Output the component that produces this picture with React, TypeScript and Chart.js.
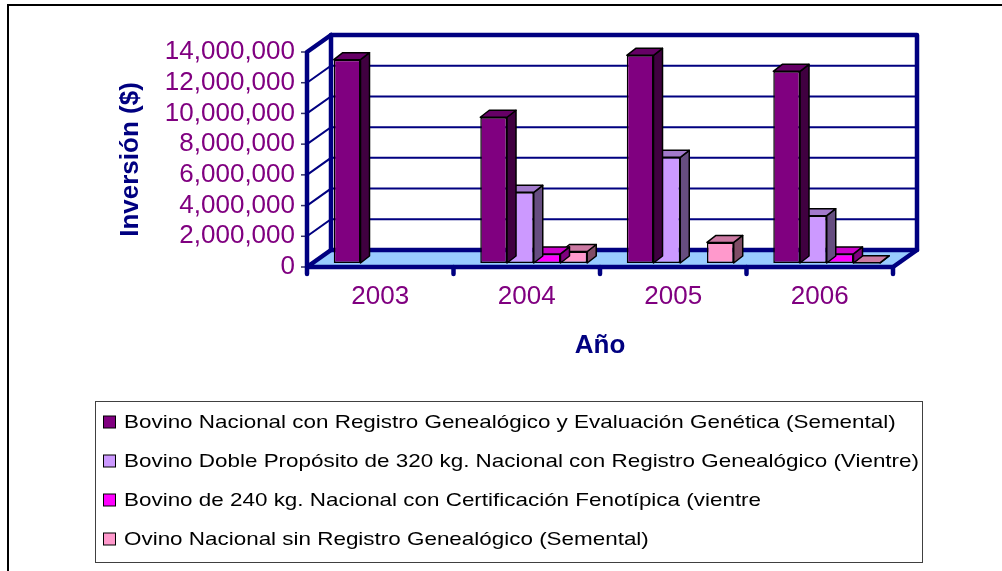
import React, { useEffect, useRef } from 'react';
import { Chart, registerables } from 'chart.js';

Chart.register(...registerables);

// ---- data ----
const years = ['2003', '2004', '2005', '2006'];
const seriesLabels = [
  'Bovino Nacional con Registro Genealógico y Evaluación Genética (Semental)',
  'Bovino Doble Propósito de 320 kg. Nacional con Registro Genealógico (Vientre)',
  'Bovino de 240 kg. Nacional con Certificación Fenotípica (vientre',
  'Ovino Nacional sin Registro Genealógico (Semental)',
];
const bovinoSemental: (number | null)[] = [13240000, 9490000, 13520000, 12480000];
const bovinoDobleProposito: (number | null)[] = [null, 4600000, 6880000, 3080000];
const bovino240: (number | null)[] = [null, 590000, null, 590000];
const ovinoSemental: (number | null)[] = [null, 750000, 1340000, 20000];
const seriesColors = ['#800080', '#CC99FF', '#FF00FF', '#FF99CC'];
const yMin = 0;
const yMax = 14000000;
const yStep = 2000000;
const xTitle = 'Año';
const yTitle = 'Inversión ($)';

// ---- style ----
const NAVY = '#000080';
const PURPLE = '#800080';
const FONT = '"Liberation Sans", Arial, sans-serif';
const WALL = { dx: 24, dy: -17 };
const BAR_SHIFT = { dx: 7, dy: -4 };
const BAR_DEPTH = { dx: 9, dy: -7 };

function shade(hex: string, f: number) {
  const n = parseInt(hex.slice(1), 16);
  const r = Math.round(((n >> 16) & 255) * f);
  const g = Math.round(((n >> 8) & 255) * f);
  const b = Math.round((n & 255) * f);
  return `rgb(${r},${g},${b})`;
}

function poly(ctx: CanvasRenderingContext2D, pts: number[][]) {
  ctx.beginPath();
  ctx.moveTo(pts[0][0], pts[0][1]);
  for (let i = 1; i < pts.length; i++) ctx.lineTo(pts[i][0], pts[i][1]);
  ctx.closePath();
}

const frame3d = {
  id: 'frame3d',
  beforeDraw(chart: any) {
    const ctx: CanvasRenderingContext2D = chart.ctx;
    ctx.save();
    ctx.fillStyle = '#ffffff';
    ctx.fillRect(0, 0, chart.width, chart.height);
    ctx.strokeStyle = '#000';
    ctx.lineWidth = 2;
    ctx.beginPath();
    ctx.moveTo(8, chart.height);
    ctx.lineTo(8, 5);
    ctx.lineTo(chart.width, 5);
    ctx.stroke();
    ctx.restore();
  },
  beforeDatasetsDraw(chart: any) {
    const ctx: CanvasRenderingContext2D = chart.ctx;
    const a = chart.chartArea;
    const y = chart.scales.y;
    const x = chart.scales.x;
    const L = a.left, R = a.right, T = a.top, B = a.bottom;
    const { dx, dy } = WALL;
    ctx.save();
    // floor
    ctx.fillStyle = '#99CCFF';
    poly(ctx, [[L, B], [L + dx, B + dy], [R + dx, B + dy], [R, B]]);
    ctx.fill();
    // gridlines (left wall + back wall)
    ctx.strokeStyle = NAVY;
    ctx.lineWidth = 2;
    const ticks = y.ticks.map((t: any) => t.value);
    ticks.forEach((v: number) => {
      if (v === yMin || v === yMax) return;
      const py = y.getPixelForValue(v);
      ctx.beginPath();
      ctx.moveTo(L, py);
      ctx.lineTo(L + dx, py + dy);
      ctx.lineTo(R + dx, py + dy);
      ctx.stroke();
    });
    // y tick marks
    ctx.lineWidth = 1.5;
    ctx.strokeStyle = '#333366';
    ticks.forEach((v: number) => {
      const py = y.getPixelForValue(v);
      ctx.beginPath();
      ctx.moveTo(L - 6, py);
      ctx.lineTo(L, py);
      ctx.stroke();
    });
    // thick frame
    ctx.strokeStyle = NAVY;
    ctx.lineWidth = 4.5;
    ctx.lineJoin = 'round';
    ctx.lineCap = 'round';
    ctx.strokeRect(L + dx, T + dy, R - L, B - T);
    ctx.beginPath();
    ctx.moveTo(L + dx, T + dy);
    ctx.lineTo(L, T);
    ctx.lineTo(L, B);
    ctx.lineTo(L + dx, B + dy);
    ctx.moveTo(L, B);
    ctx.lineTo(R, B);
    ctx.lineTo(R + dx, B + dy);
    ctx.stroke();
    // category stubs
    const n = years.length;
    const cw = (x.getPixelForValue(n - 1) - x.getPixelForValue(0)) / (n - 1);
    for (let i = 0; i <= n; i++) {
      const px = x.getPixelForValue(0) - cw / 2 + i * cw;
      ctx.beginPath();
      ctx.moveTo(px, B);
      ctx.lineTo(px, B + 7);
      ctx.stroke();
    }
    ctx.restore();
    ctx.save();
    ctx.translate(BAR_SHIFT.dx, BAR_SHIFT.dy);
  },
  afterDatasetDraw(chart: any, args: any) {
    const ctx: CanvasRenderingContext2D = chart.ctx;
    const meta = args.meta;
    const ds = chart.data.datasets[args.index];
    const base = ds.backgroundColor as string;
    const side = shade(base, 0.5);
    const top = shade(base, 0.8);
    const { dx, dy } = BAR_DEPTH;
    ctx.save();
    ctx.strokeStyle = '#000';
    ctx.lineWidth = 1.5;
    ctx.lineJoin = 'round';
    meta.data.forEach((el: any, i: number) => {
      const v = ds.data[i];
      if (v === null || v === undefined) return;
      const p = el.getProps(['x', 'y', 'base', 'width'], true);
      const l = p.x - p.width / 2;
      const r = p.x + p.width / 2;
      const t = Math.min(p.y, p.base);
      const b = Math.max(p.y, p.base);
      ctx.fillStyle = side;
      poly(ctx, [[r, t], [r + dx, t + dy], [r + dx, b + dy], [r, b]]);
      ctx.fill();
      ctx.stroke();
      ctx.fillStyle = top;
      poly(ctx, [[l, t], [l + dx, t + dy], [r + dx, t + dy], [r, t]]);
      ctx.fill();
      ctx.stroke();
    });
    ctx.restore();
  },
  afterDatasetsDraw(chart: any) {
    chart.ctx.restore();
  },
  afterDraw(chart: any) {
    const ctx: CanvasRenderingContext2D = chart.ctx;
    ctx.save();
    ctx.strokeStyle = '#404040';
    ctx.lineWidth = 1;
    ctx.strokeRect(95.5, 401.5, 827, 161);
    ctx.font = `19px ${FONT}`;
    const labels: string[] = chart.data.datasets.map((d: any) => d.label);
    const widest = Math.max(...labels.map((s) => ctx.measureText(s).width));
    const sx = 795 / widest;
    chart.data.datasets.forEach((d: any, i: number) => {
      const cy = 422 + i * 39;
      ctx.fillStyle = d.backgroundColor;
      ctx.fillRect(103.5, cy - 6, 12, 12);
      ctx.strokeStyle = '#000';
      ctx.lineWidth = 1;
      ctx.strokeRect(103.5, cy - 6, 12, 12);
      ctx.save();
      ctx.translate(124, cy);
      ctx.scale(sx, 1);
      ctx.fillStyle = '#000';
      ctx.textBaseline = 'middle';
      ctx.textAlign = 'left';
      ctx.fillText(d.label, 0, 1);
      ctx.restore();
    });
    ctx.restore();
  },
};

export default function App() {
  const ref = useRef<HTMLCanvasElement | null>(null);
  useEffect(() => {
    if (!ref.current) return;
    const seriesData = [bovinoSemental, bovinoDobleProposito, bovino240, ovinoSemental];
    const chart = new Chart(ref.current, {
      type: 'bar',
      data: {
        labels: years,
        datasets: seriesData.map((d, i) => ({
          label: seriesLabels[i],
          data: d,
          backgroundColor: seriesColors[i],
          borderColor: '#000',
          borderWidth: 1.5,
          borderSkipped: false,
          barPercentage: 1,
          categoryPercentage: 0.73,
          clip: false as any,
        })),
      },
      options: {
        animation: false,
        responsive: false,
        maintainAspectRatio: false,
        devicePixelRatio: 1,
        layout: { padding: { left: 0, top: 52, right: 109, bottom: 0 } },
        plugins: { legend: { display: false }, tooltip: { enabled: false } },
        scales: {
          x: {
            offset: true,
            grid: { display: false, drawTicks: false },
            border: { display: false },
            ticks: { color: PURPLE, font: { size: 26, family: FONT }, padding: 14, maxRotation: 0, autoSkip: false },
            title: {
              display: true,
              text: xTitle,
              color: NAVY,
              font: { size: 26, weight: 'bold', family: FONT },
              padding: { top: 0, bottom: 210 },
            },
            afterFit: (s: any) => {
              s.height = 304;
            },
          },
          y: {
            min: yMin,
            max: yMax,
            grid: { display: false, drawTicks: false },
            border: { display: false },
            ticks: {
              stepSize: yStep,
              autoSkip: false,
              color: PURPLE,
              font: { size: 26, family: FONT },
              padding: 12,
              callback: (v: any) => Number(v).toLocaleString('en-US'),
            },
            title: {
              display: true,
              text: yTitle,
              color: NAVY,
              font: { size: 26, weight: 'bold', family: FONT },
              padding: { top: 115, bottom: 0 },
            },
            afterFit: (s: any) => {
              s.width = 307;
            },
          },
        },
      } as any,
      plugins: [frame3d],
    });
    return () => chart.destroy();
  }, []);
  return (
    <div style={{ position: 'fixed', left: 0, top: 0, width: 1002, height: 571, background: '#fff' }}>
      <canvas ref={ref} width={1002} height={571} style={{ display: 'block' }} />
    </div>
  );
}
